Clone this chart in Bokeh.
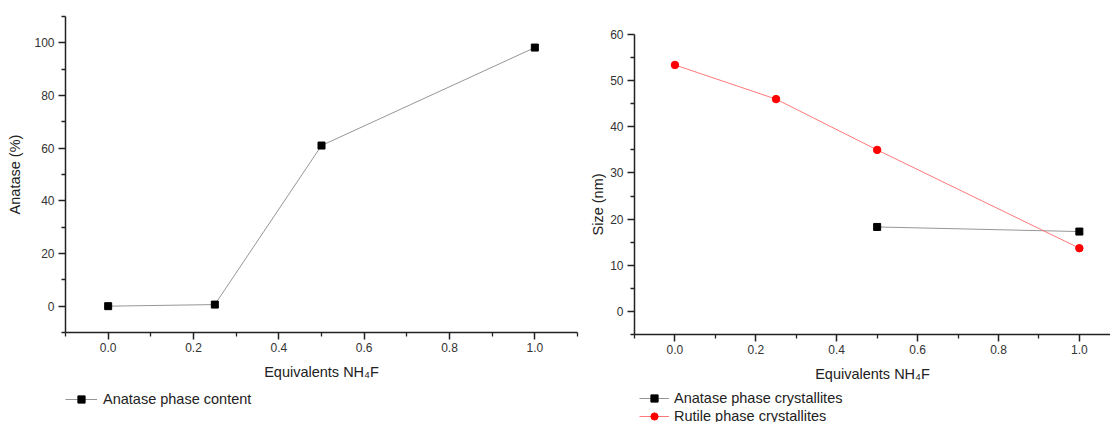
import numpy as np
from bokeh.plotting import figure
from bokeh.layouts import row, column
from bokeh.models import (FixedTicker, NumeralTickFormatter, Legend, LegendItem,
                          Range1d, Title)
from bokeh.embed import file_html
from bokeh.resources import INLINE

# ---------------- data ----------------
equiv = [0.0, 0.25, 0.5, 1.0]
anatase_pct = [0.0, 0.6, 61.0, 98.2]

equiv_anatase = [0.5, 1.0]
anatase_size = [18.3, 17.3]

equiv_rutile = [0.0, 0.25, 0.5, 1.0]
rutile_size = [53.4, 46.0, 35.0, 13.7]

x_ticks = [0.0, 0.2, 0.4, 0.6, 0.8, 1.0]
x_minor = [-0.1, 0.1, 0.3, 0.5, 0.7, 0.9, 1.1]
y1_ticks = [0, 20, 40, 60, 80, 100]
y1_minor = [-10, 10, 30, 50, 70, 90, 110]
y2_ticks = [0, 10, 20, 30, 40, 50, 60]
y2_minor = [-5, 5, 15, 25, 35, 45, 55]

x_label = "Equivalents NH\u2084F"
y1_label = "Anatase (%)"
y2_label = "Size (nm)"
leg1_label = "Anatase phase content"
leg2_labels = ["Anatase phase crystallites", "Rutile phase crystallites"]

FONT = "Liberation Sans"
AX = "#222222"
GRAY_LINE = "#8a8a8a"
RED_LINE = "#ff6a6a"
RED = "#ff0000"


def style(p, xt, xm, yt, ym):
    p.xaxis.ticker = FixedTicker(ticks=xt, minor_ticks=xm)
    p.yaxis.ticker = FixedTicker(ticks=yt, minor_ticks=ym)
    p.xaxis.formatter = NumeralTickFormatter(format="0.0")
    p.xgrid.visible = False
    p.ygrid.visible = False
    p.outline_line_color = None
    for ax in (p.xaxis[0], p.yaxis[0]):
        ax.axis_line_color = AX
        ax.axis_line_width = 1.5
        ax.major_tick_line_color = AX
        ax.major_tick_line_width = 1.5
        ax.minor_tick_line_color = AX
        ax.minor_tick_line_width = 1.3
        ax.major_tick_in = 0
        ax.major_tick_out = 7
        ax.minor_tick_in = 0
        ax.minor_tick_out = 4
        ax.major_label_text_font = FONT
        ax.major_label_text_font_size = "12px"
        ax.major_label_text_color = "#333333"
        ax.axis_label_text_font = FONT
        ax.axis_label_text_font_size = "14.5px"
        ax.axis_label_text_font_style = "normal"
        ax.axis_label_text_color = "#222222"
    p.xaxis.major_label_standoff = 3
    p.xaxis.axis_label_standoff = 9
    p.yaxis.major_label_standoff = 4


def legend_fig(width, border_left, border_right, entries, loc, gw, standoff):
    lf = figure(width=width, height=34, output_backend="svg",
                toolbar_location=None, x_axis_location=None,
                y_axis_location=None, min_border_left=border_left,
                min_border_right=border_right, min_border_top=0,
                min_border_bottom=0)
    lf.outline_line_color = None
    lf.xgrid.visible = False
    lf.ygrid.visible = False
    items = []
    for label, marker, mcolor, lcolor, msize in entries:
        # proxy renderers (no visible data) that only carry the legend style
        rl = lf.line(np.array([np.nan]), np.array([np.nan]),
                     line_color=lcolor, line_width=0.9)
        rs = lf.scatter(np.array([np.nan]), np.array([np.nan]), marker=marker,
                        size=msize, fill_color=mcolor, line_color=mcolor)
        items.append(LegendItem(label=label, renderers=[rl, rs]))
    lf.add_layout(Legend(items=items, location=loc, orientation="vertical",
                         margin=0, padding=0, spacing=0, glyph_width=gw,
                         glyph_height=18, label_height=18,
                         label_standoff=standoff, label_text_font=FONT,
                         label_text_font_size="14.5px",
                         label_text_color="#222222", border_line_color=None,
                         background_fill_alpha=0))
    return lf


# ---------------- left figure ----------------
p1 = figure(width=585, height=388, output_backend="svg", toolbar_location=None,
            x_range=Range1d(-0.1, 1.1), y_range=Range1d(-10, 110),
            min_border_left=65, min_border_right=8, min_border_top=16,
            min_border_bottom=56)
style(p1, x_ticks, x_minor, y1_ticks, y1_minor)
p1.xaxis.axis_label = x_label
p1.yaxis.axis_label = y1_label
p1.yaxis.axis_label_standoff = 8

p1.line(equiv, anatase_pct, line_color=GRAY_LINE, line_width=0.9)
p1.scatter(equiv, anatase_pct, marker="square", size=7,
           fill_color="black", line_color="black")

lf1 = legend_fig(585, 65, 8,
                 [(leg1_label, "square", "black", GRAY_LINE, 7)],
                 (0, 14), 32, 6)

# ---------------- right figure ----------------
p2 = figure(width=525, height=388, output_backend="svg", toolbar_location=None,
            x_range=Range1d(-0.1, 1.077), y_range=Range1d(-5, 60),
            min_border_left=48, min_border_right=0, min_border_top=34,
            min_border_bottom=54)
style(p2, x_ticks, x_minor, y2_ticks, y2_minor)
p2.xaxis.axis_label = x_label
p2.add_layout(Title(text=y2_label, align="left", offset=99, standoff=4,
                    vertical_align="bottom", text_font=FONT,
                    text_font_size="14.5px", text_font_style="normal",
                    text_color="#222222"), "left")

p2.line(equiv_anatase, anatase_size, line_color=GRAY_LINE, line_width=0.9)
p2.scatter(equiv_anatase, anatase_size, marker="square", size=7,
           fill_color="black", line_color="black")
p2.line(equiv_rutile, rutile_size, line_color=RED_LINE, line_width=0.9)
p2.scatter(equiv_rutile, rutile_size, marker="circle", size=7.5,
           fill_color=RED, line_color=RED)

lf2 = legend_fig(525, 48, 0,
                 [(leg2_labels[0], "square", "black", GRAY_LINE, 7),
                  (leg2_labels[1], "circle", RED, RED_LINE, 7.5)],
                 (5, -3), 30, 5)

layout = row(column(p1, lf1), column(p2, lf2))
open("out.html", "w").write(file_html(layout, INLINE))
